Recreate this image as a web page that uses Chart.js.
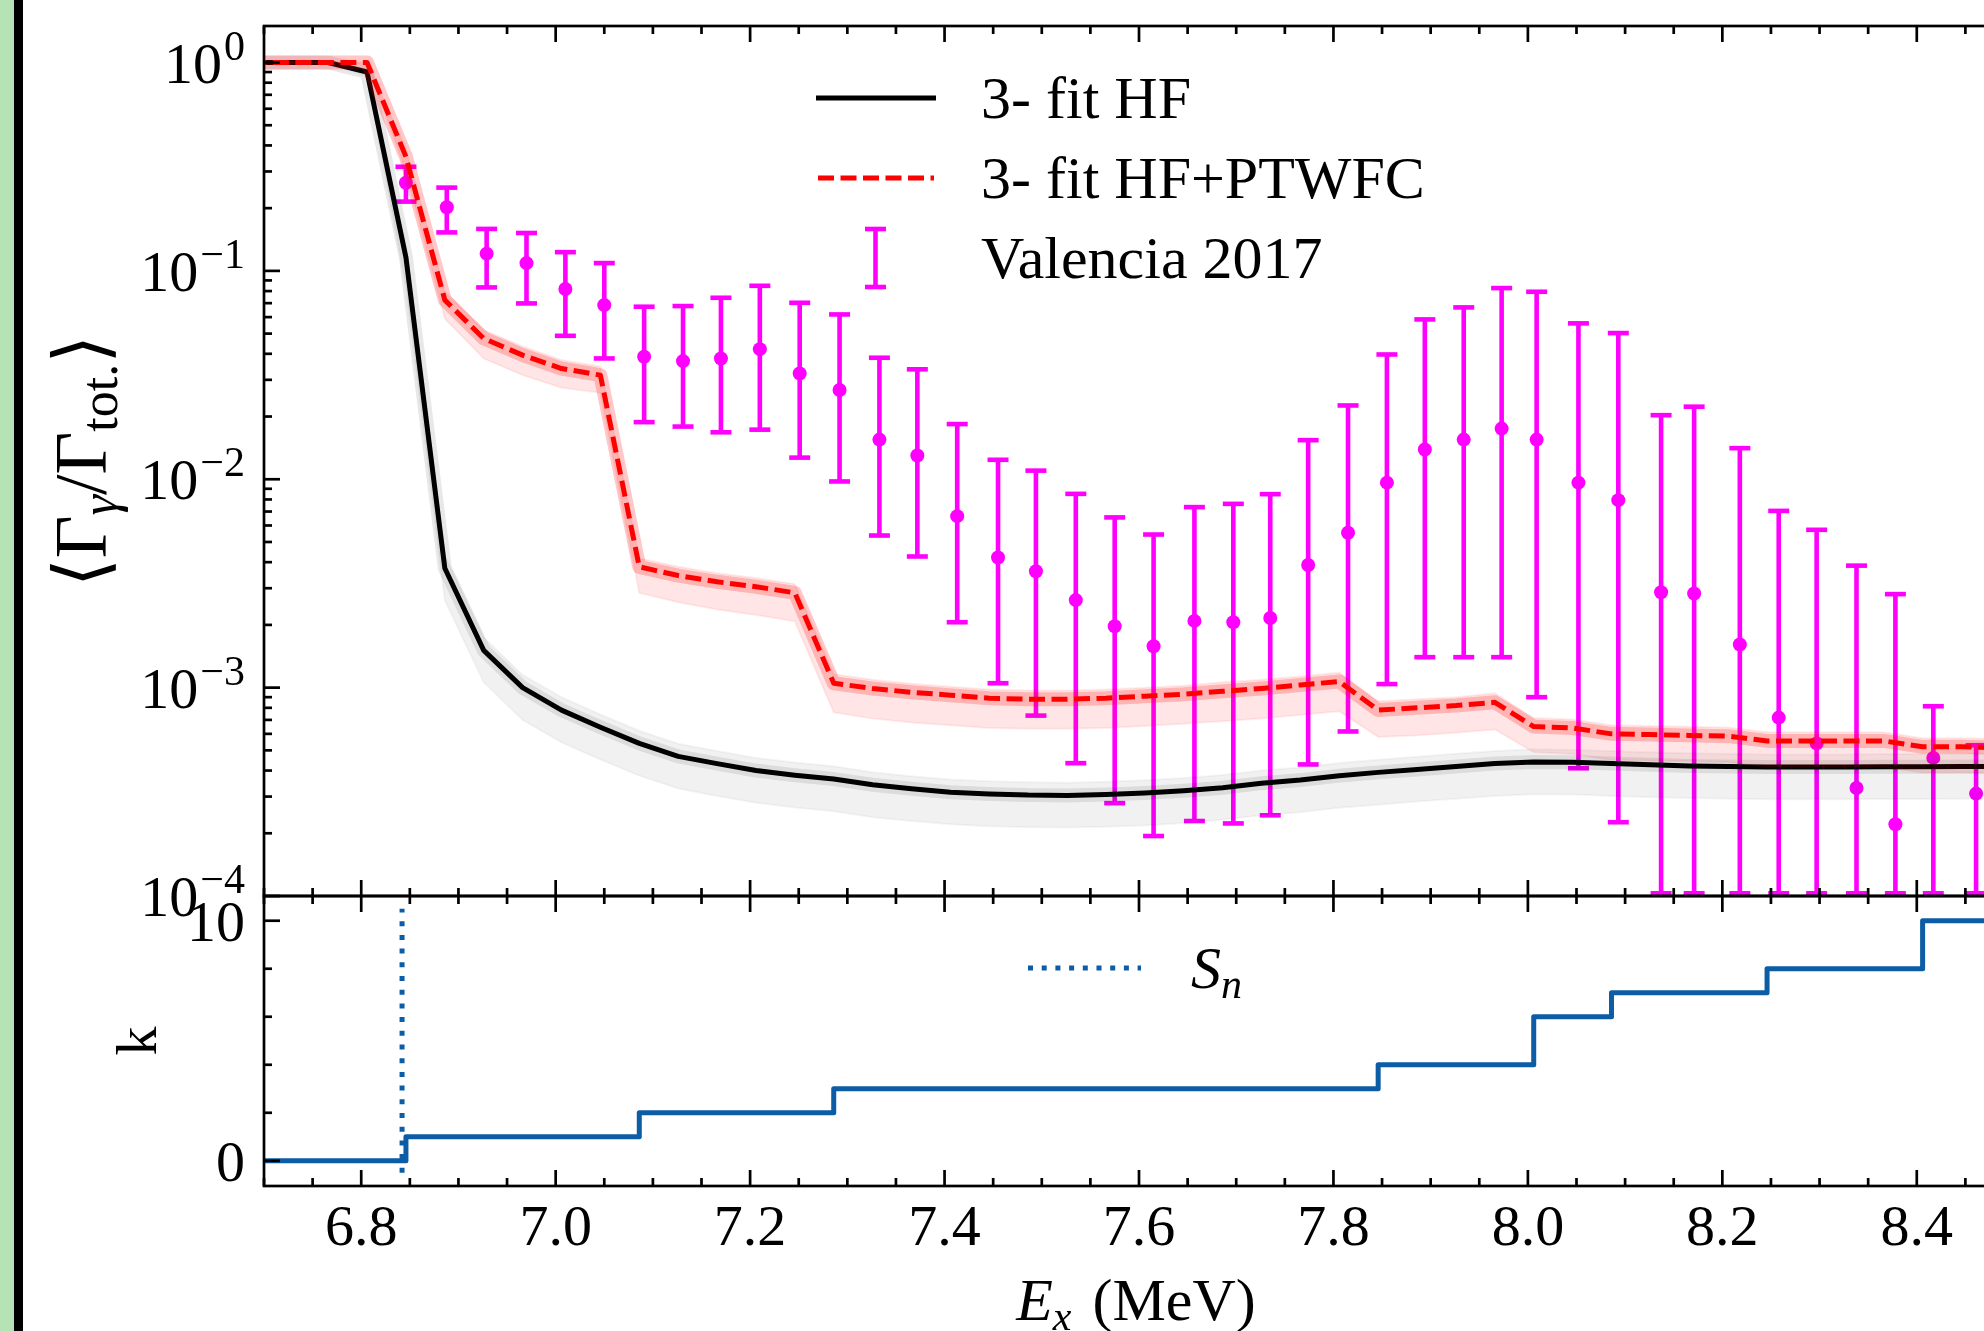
<!DOCTYPE html>
<html><head><meta charset="utf-8">
<script src="https://cdn.jsdelivr.net/npm/chart.js@4.4.1/dist/chart.umd.min.js"></script>
<style>
html,body{margin:0;padding:0;background:#fff;overflow:hidden;}
#wrap{position:relative;width:1984px;height:1331px;overflow:hidden;background:#fff;}
#wrap canvas{position:absolute;left:0;top:0;}
#g{position:absolute;left:0;top:0;width:14px;height:1331px;background:#b5e3b5;}
#b{position:absolute;left:14px;top:0;width:9px;height:1331px;background:#000;}
</style></head>
<body><div id="wrap"><canvas id="top" width="2100" height="1331"></canvas><canvas id="bot" width="2100" height="1331"></canvas><div id="g"></div><div id="b"></div></div>
<script>
// ---------------- data ----------------
const ex = [6.686, 6.726, 6.766, 6.806, 6.846, 6.886, 6.926, 6.966, 7.006, 7.046, 7.086, 7.126, 7.166, 7.206, 7.246, 7.286, 7.326, 7.366, 7.406, 7.446, 7.486, 7.526, 7.566, 7.606, 7.646, 7.686, 7.726, 7.766, 7.806, 7.846, 7.886, 7.926, 7.966, 8.006, 8.046, 8.086, 8.126, 8.166, 8.206, 8.246, 8.286, 8.326, 8.366, 8.406, 8.446, 8.486];
const hf = [1.0, 1.0, 1.0, 0.90, 0.116, 0.00374, 0.00151, 0.00100, 0.00078, 0.000646, 0.000540, 0.000468, 0.000432, 0.000400, 0.000380, 0.000364, 0.000342, 0.000327, 0.000315, 0.000309, 0.000305, 0.000304, 0.000307, 0.000312, 0.000320, 0.000331, 0.000348, 0.000360, 0.000378, 0.000392, 0.000405, 0.000418, 0.000432, 0.000440, 0.000438, 0.000432, 0.000426, 0.000421, 0.000418, 0.000416, 0.000416, 0.000416, 0.000417, 0.000417, 0.000418, 0.000418];
const hfHi = [1.0, 1.0, 1.0, 0.93, 0.133, 0.0043, 0.00174, 0.00115, 0.0009, 0.000743, 0.000621, 0.000538, 0.000497, 0.00046, 0.000437, 0.000419, 0.000393, 0.000376, 0.000362, 0.000355, 0.000351, 0.00035, 0.000353, 0.000359, 0.000368, 0.000381, 0.0004, 0.000414, 0.000435, 0.000451, 0.000466, 0.000481, 0.000497, 0.000506, 0.000504, 0.000497, 0.00049, 0.000484, 0.000481, 0.000478, 0.000478, 0.000478, 0.00048, 0.00048, 0.000481, 0.000481];
const hfLo = [1.0, 1.0, 1.0, 0.86, 0.084, 0.00262, 0.00106, 0.0007, 0.000546, 0.000452, 0.000378, 0.000328, 0.000302, 0.00028, 0.000266, 0.000255, 0.000239, 0.000229, 0.000221, 0.000216, 0.000214, 0.000213, 0.000215, 0.000218, 0.000224, 0.000232, 0.000244, 0.000252, 0.000265, 0.000274, 0.000284, 0.000293, 0.000302, 0.000308, 0.000307, 0.000302, 0.000298, 0.000295, 0.000293, 0.000291, 0.000291, 0.000291, 0.000292, 0.000292, 0.000293, 0.000293];
const pt = [1.0, 1.0, 1.0, 1.0, 0.353, 0.0724, 0.0474, 0.0394, 0.0340, 0.0316, 0.00380, 0.00345, 0.00322, 0.00305, 0.00285, 0.00105, 0.00099, 0.00095, 0.00092, 0.00089, 0.00088, 0.00088, 0.00089, 0.00091, 0.00093, 0.00096, 0.00099, 0.00103, 0.00107, 0.00078, 0.00080, 0.00082, 0.00085, 0.00065, 0.00064, 0.00060, 0.000595, 0.00059, 0.000585, 0.000555, 0.000555, 0.000555, 0.000555, 0.00052, 0.00052, 0.000515];
const ptHi = [1.0, 1.0, 1.0, 1.0, 0.385, 0.0795, 0.052, 0.0434, 0.0374, 0.0348, 0.00418, 0.0038, 0.00354, 0.00336, 0.00314, 0.00116, 0.00109, 0.001045, 0.00101, 0.00098, 0.00097, 0.00097, 0.00098, 0.001, 0.00102, 0.00106, 0.00109, 0.00113, 0.00118, 0.00086, 0.00088, 0.0009, 0.00094, 0.000715, 0.000704, 0.00066, 0.000655, 0.000649, 0.000644, 0.00061, 0.00061, 0.00061, 0.00061, 0.000572, 0.000572, 0.000567];
const ptLo = [1.0, 1.0, 1.0, 1.0, 0.30, 0.059, 0.038, 0.0316, 0.0275, 0.026, 0.00285, 0.00257, 0.00237, 0.00223, 0.00208, 0.00076, 0.00071, 0.00068, 0.00066, 0.00064, 0.000634, 0.000634, 0.00064, 0.000655, 0.00067, 0.00069, 0.00071, 0.00074, 0.00077, 0.00058, 0.00059, 0.000607, 0.00063, 0.00049, 0.00048, 0.00045, 0.000446, 0.000443, 0.000439, 0.000416, 0.000416, 0.000416, 0.000416, 0.00039, 0.00039, 0.000386];
const kVals = [0,0,0,0, 1,1,1,1,1,1, 2,2,2,2,2, 3,3,3,3,3,3,3,3,3,3,3,3,3,3, 4,4,4,4, 6,6, 7,7,7,7, 8,8,8,8, 10,10,10];
const Sn = 6.842;
const snSpan = [-0.5, 10.5];

const valE = [6.846, 6.888, 6.929, 6.970, 7.010, 7.050, 7.091, 7.131, 7.170, 7.210, 7.251, 7.292, 7.333, 7.372, 7.413, 7.455, 7.494, 7.535, 7.575, 7.615, 7.657, 7.697, 7.735, 7.774, 7.815, 7.855, 7.894, 7.934, 7.973, 8.009, 8.052, 8.093, 8.137, 8.171, 8.218, 8.258, 8.297, 8.338, 8.378, 8.417, 8.461];
const valY = [0.265, 0.202, 0.121, 0.109, 0.0818, 0.0685, 0.0387, 0.0369, 0.038, 0.0421, 0.0322, 0.0268, 0.0155, 0.0130, 0.00665, 0.00421, 0.00362, 0.00263, 0.00197, 0.00158, 0.00209, 0.00206, 0.00216, 0.00388, 0.00554, 0.00963, 0.0139, 0.0155, 0.0175, 0.0155, 0.00963, 0.00794, 0.00287, 0.00283, 0.00161, 0.000718, 0.00054, 0.00033, 0.000221, 0.00046, 0.00031];
const valHi = [0.316, 0.251, 0.159, 0.152, 0.123, 0.109, 0.0673, 0.0678, 0.0743, 0.0848, 0.0703, 0.0618, 0.0383, 0.0337, 0.0184, 0.0124, 0.0110, 0.00851, 0.00656, 0.00543, 0.00735, 0.00762, 0.00848, 0.0154, 0.0226, 0.0397, 0.0585, 0.0668, 0.0827, 0.0794, 0.0560, 0.0503, 0.0203, 0.0223, 0.0141, 0.00705, 0.00572, 0.00385, 0.00281, 0.000814, 0.000529];
const valLo = [0.215, 0.153, 0.0833, 0.0698, 0.0488, 0.038, 0.0188, 0.0179, 0.0168, 0.0173, 0.0127, 0.00976, 0.00537, 0.00426, 0.00206, 0.00105, 0.000734, 0.000434, 0.000279, 0.000194, 0.000229, 0.000223, 0.000244, 0.000428, 0.000616, 0.00104, 0.0014, 0.0014, 0.0014, 0.0009, 0.00041, 0.000226, 0.000103, 0.000103, 0.000103, 0.000103, 0.000103, 0.000103, 0.000103, 0.000103, 0.000103];

const xTickValues = [6.8, 7.0, 7.2, 7.4, 7.6, 7.8, 8.0, 8.2, 8.4];
const xTickLabels = ['6.8', '7.0', '7.2', '7.4', '7.6', '7.8', '8.0', '8.2', '8.4'];
const yTickValues = [1, 0.1, 0.01, 0.001, 0.0001];
const yTickExps = ['0', '\u22121', '\u22122', '\u22123', '\u22124'];
const kTickValues = [0, 10];
const kTickLabels = ['0', '10'];
const kMinorValues = [2, 4, 6, 8];
const legendLabels = ['3- fit HF', '3- fit HF+PTWFC', 'Valencia 2017'];

// ---------------- axis helpers ----------------
const X_MIN = 6.7, X_MAX = 8.5, Y_MIN = 1e-4, Y_MAX = 1.497, K_MIN = -1.05, K_MAX = 11.03;
const xMinor = [];
for (let i = 134; i <= 170; i++) { if (i % 4 !== 0) xMinor.push(i * 0.05); }
const yMinor = [];
for (let e = -4; e <= 0; e++) for (let m = 2; m <= 9; m++) { const v = m * Math.pow(10, e); if (v <= Y_MAX) yMinor.push(v); }

const FF = '"Liberation Serif","DejaVu Serif",serif';
const font = (s, it) => (it ? 'italic ' : '') + s + 'px ' + FF;
function richWidth(ctx, parts) { let w = 0; for (const p of parts) { ctx.font = font(p.s, p.i); w += ctx.measureText(p.t).width + (p.g || 0); } return w; }
function drawRich(ctx, parts, x, y, align) {
  const w = richWidth(ctx, parts);
  let cx = align === 'center' ? x - w / 2 : align === 'right' ? x - w : x;
  ctx.textAlign = 'left'; ctx.textBaseline = 'alphabetic';
  for (const p of parts) { ctx.font = font(p.s, p.i); ctx.fillText(p.t, cx, y + (p.dy || 0)); cx += ctx.measureText(p.t).width + (p.g || 0); }
}
function seg(ctx, x1, y1, x2, y2) { ctx.beginPath(); ctx.moveTo(x1, y1); ctx.lineTo(x2, y2); ctx.stroke(); }

function makeAxes(name, yMajor, yMinorV, extra) {
  return {
    id: 'axes_' + name,
    afterDraw(chart) {
      const ctx = chart.ctx, a = chart.chartArea, xs = chart.scales.x, ys = chart.scales.y;
      ctx.save();
      ctx.strokeStyle = '#000'; ctx.fillStyle = '#000'; ctx.lineWidth = 2.7; ctx.lineCap = 'butt';
      const xt = (vals, len) => vals.forEach(v => { const p = xs.getPixelForValue(v); if (p < a.left - 0.5 || p > a.right + 0.5) return; seg(ctx, p, a.bottom, p, a.bottom - len); seg(ctx, p, a.top, p, a.top + len); });
      xt(xTickValues, 16); xt(xMinor, 8);
      const yt = (vals, len) => vals.forEach(v => { const p = ys.getPixelForValue(v); if (p < a.top - 0.5 || p > a.bottom + 0.5) return; seg(ctx, a.left, p, a.left + len, p); seg(ctx, a.right, p, a.right - len, p); });
      yt(yMajor, 16); yt(yMinorV, 8);
      ctx.strokeRect(a.left, a.top, a.right - a.left, a.bottom - a.top);
      extra(ctx, chart, a, xs, ys);
      ctx.restore();
    }
  };
}

const errPlugin = {
  id: 'errbars',
  beforeDatasetsDraw(chart) {
    const ctx = chart.ctx, a = chart.chartArea, xs = chart.scales.x, ys = chart.scales.y;
    ctx.save();
    ctx.beginPath(); ctx.rect(a.left, a.top, a.right - a.left, a.bottom - a.top); ctx.clip();
    ctx.strokeStyle = '#ff00ff'; ctx.lineWidth = 4.6; ctx.lineCap = 'butt';
    for (let i = 0; i < valE.length; i++) {
      const px = xs.getPixelForValue(valE[i]);
      const pt_ = ys.getPixelForValue(valHi[i]);
      const pb = ys.getPixelForValue(valLo[i]);
      seg(ctx, px, pt_, px, pb);
      seg(ctx, px - 10.5, pt_, px + 10.5, pt_);
      seg(ctx, px - 10.5, pb, px + 10.5, pb);
    }
    ctx.restore();
  }
};

const pts = arr => ex.map((x, i) => ({ x: x, y: arr[i] }));

const topExtra = (ctx, chart, a, xs, ys) => {
  ctx.fillStyle = '#000';
  yTickValues.forEach((v, i) => {
    const p = ys.getPixelForValue(v);
    drawRich(ctx, [{ t: '10', s: 58, g: 2 }, { t: yTickExps[i], s: 42, dy: -23 }], 245, p + 20, 'right');
  });
  // y title
  ctx.save(); ctx.translate(80, (a.top + a.bottom) / 2); ctx.rotate(-Math.PI / 2);
  drawRich(ctx, [{ t: '\u27E8', s: 74 }, { t: '\u0393', s: 74 }, { t: '\u03B3', s: 52, i: true, dy: 11 }, { t: '/', s: 74 }, { t: '\u0393', s: 74 }, { t: 'tot.', s: 52, dy: 11 }, { t: '\u27E9', s: 74 }], 0, 26, 'center');
  ctx.restore();
  // legend
  ctx.lineWidth = 5; ctx.strokeStyle = '#000'; seg(ctx, 816, 98, 936, 98);
  ctx.strokeStyle = '#ff0000'; ctx.setLineDash([16, 6.5]); seg(ctx, 818, 178, 934, 178); ctx.setLineDash([]);
  ctx.strokeStyle = '#ff00ff'; ctx.lineWidth = 4.6;
  seg(ctx, 875.5, 229, 875.5, 287); seg(ctx, 865, 229, 886, 229); seg(ctx, 865, 287, 886, 287);
  ctx.fillStyle = '#000';
  drawRich(ctx, [{ t: legendLabels[0], s: 60 }], 981, 118, 'left');
  drawRich(ctx, [{ t: legendLabels[1], s: 60 }], 981, 198, 'left');
  drawRich(ctx, [{ t: legendLabels[2], s: 60 }], 981, 278, 'left');
};

const botExtra = (ctx, chart, a, xs, ys) => {
  ctx.fillStyle = '#000';
  kTickValues.forEach((v, i) => { const p = ys.getPixelForValue(v); drawRich(ctx, [{ t: kTickLabels[i], s: 58 }], 245, p + 20, 'right'); });
  xTickValues.forEach((v, i) => { const p = xs.getPixelForValue(v); drawRich(ctx, [{ t: xTickLabels[i], s: 58 }], p, a.bottom + 59, 'center'); });
  // k title
  ctx.save(); ctx.translate(137, (a.top + a.bottom) / 2); ctx.rotate(-Math.PI / 2);
  drawRich(ctx, [{ t: 'k', s: 58 }], 0, 19, 'center');
  ctx.restore();
  // x title
  drawRich(ctx, [{ t: 'E', s: 60, i: true }, { t: 'x', s: 42, i: true, dy: 10, g: 6 }, { t: ' (MeV)', s: 60 }], (a.left + a.right) / 2 - 3, 1320, 'center');
  // Sn legend
  ctx.strokeStyle = '#0C5DA5'; ctx.lineWidth = 5; ctx.setLineDash([5, 8.7]);
  seg(ctx, 1028, 968, 1141, 968); ctx.setLineDash([]);
  drawRich(ctx, [{ t: 'S', s: 60, i: true }, { t: 'n', s: 42, i: true, dy: 10 }], 1191, 988, 'left');
};

const common = {
  responsive: false, animation: false, devicePixelRatio: 1, events: [],
  plugins: { legend: { display: false }, tooltip: { enabled: false } },
  elements: { point: { radius: 0 }, line: { tension: 0 } }
};

new Chart(document.getElementById('top'), {
  type: 'line',
  data: {
    datasets: [
      { data: pts(pt), borderColor: '#ff0000', borderWidth: 5, borderDash: [16, 6.5], borderJoinStyle: 'round', fill: false, order: 0, clip: 0 },
      { data: pts(pt), borderColor: 'rgba(255,0,0,0.22)', borderWidth: 14, borderJoinStyle: 'round', fill: false, order: 1, clip: 0 },
      { data: pts(ptHi), borderColor: 'rgba(255,0,0,0.07)', borderWidth: 2, backgroundColor: 'rgba(255,0,0,0.10)', fill: '+1', order: 2, clip: 0 },
      { data: pts(ptLo), borderColor: 'rgba(255,0,0,0.07)', borderWidth: 2, fill: false, order: 3, clip: 0 },
      { data: pts(hf), borderColor: '#000000', borderWidth: 5, borderJoinStyle: 'round', fill: false, order: 4, clip: 0 },
      { data: pts(hf), borderColor: 'rgba(0,0,0,0.09)', borderWidth: 14, borderJoinStyle: 'round', fill: false, order: 5, clip: 0 },
      { data: pts(hfHi), borderColor: 'rgba(0,0,0,0.04)', borderWidth: 2, backgroundColor: 'rgba(0,0,0,0.055)', fill: '+1', order: 6, clip: 0 },
      { data: pts(hfLo), borderColor: 'rgba(0,0,0,0.04)', borderWidth: 2, fill: false, order: 7, clip: 0 },
      { data: valE.map((x, i) => ({ x: x, y: valY[i] })), showLine: false, pointRadius: 7, pointBackgroundColor: '#ff00ff', pointBorderWidth: 0, pointBorderColor: '#ff00ff', order: 8, clip: 0 }
    ]
  },
  options: Object.assign({}, common, {
    layout: { padding: { left: 264, right: 86, top: 26, bottom: 435 } },
    scales: {
      x: { type: 'linear', min: X_MIN, max: X_MAX, display: false },
      y: { type: 'logarithmic', min: Y_MIN, max: Y_MAX, display: false }
    }
  }),
  plugins: [errPlugin, makeAxes('top', yTickValues, yMinor, topExtra)]
});

new Chart(document.getElementById('bot'), {
  type: 'line',
  data: {
    datasets: [
      { data: [{ x: Sn, y: snSpan[0] }, { x: Sn, y: snSpan[1] }], borderColor: '#0C5DA5', borderWidth: 5, borderDash: [5, 8.7], fill: false, order: 0, clip: 0 },
      { data: pts(kVals), borderColor: '#0C5DA5', borderWidth: 5, stepped: 'before', borderJoinStyle: 'round', fill: false, order: 1, clip: 0 }
    ]
  },
  options: Object.assign({}, common, {
    layout: { padding: { left: 264, right: 86, top: 896, bottom: 145 } },
    scales: {
      x: { type: 'linear', min: X_MIN, max: X_MAX, display: false },
      y: { type: 'linear', min: K_MIN, max: K_MAX, display: false }
    }
  }),
  plugins: [makeAxes('bot', kTickValues, kMinorValues, botExtra)]
});
</script>
</body></html>
